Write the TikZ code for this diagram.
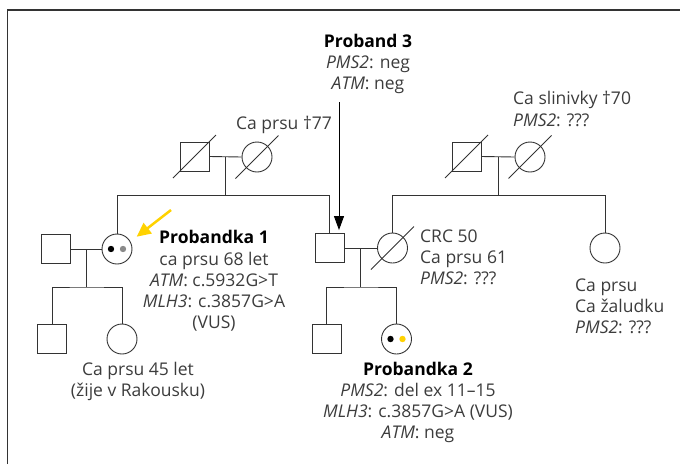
\documentclass[tikz,border=0pt]{standalone}
\usepackage{fontspec}
\setmainfont{Open Sans}
\usetikzlibrary{calc,arrows.meta}
\definecolor{txtgray}{HTML}{3C3C3C}
\definecolor{lngray}{HTML}{333333}
\definecolor{pyellow}{HTML}{FFD200}
\definecolor{dotgray}{HTML}{8A8A8A}
\tikzset{
  male/.style={rectangle, draw=lngray, line width=0.9pt, minimum size=29pt, inner sep=0pt},
  female/.style={circle, draw=lngray, line width=0.9pt, minimum size=30pt, inner sep=0pt},
  rel/.style={draw=lngray, line width=0.9pt},
  txt/.style={text=txtgray, inner sep=0pt, font=\fontsize{17.5}{21.2}\selectfont}
}
\newcommand{\slashit}[1]{\draw[rel] ($(#1)+(-21.5,21.5)$) -- ($(#1)+(21.5,-21.5)$);}
\begin{document}
\begin{tikzpicture}[x=1pt,y=-1pt]
\useasboundingbox (0,0) rectangle (680,464);
% frame
\draw[lngray, line width=1.1pt] (7.5,464) -- (7.5,10) -- (680,10);

% generation I
\node[male] (gf1) at (194.5,156.5) {};
\node[female] (gm1) at (257,157) {};
\node[male] (gf2) at (466.5,156.5) {};
\node[female] (gm2) at (530,157) {};
\slashit{gf1}\slashit{gm1}\slashit{gf2}\slashit{gm2}

% generation II
\node[male] (p1h) at (56,249) {};
\node[female] (p1) at (117,249) {};
\node[male] (p3) at (329.5,248) {};
\node[female] (p3w) at (392.5,248) {};
\node[female] (aunt) at (605,248) {};
\slashit{p3w}

% generation III
\node[male] (s1) at (52,339) {};
\node[female] (d1) at (122,339) {};
\node[male] (s2) at (326.5,339) {};
\node[female] (p2) at (396.5,339) {};

% dots
\fill[black] ($(p1)+(-6,0)$) circle (3.2);
\fill[dotgray] ($(p1)+(6,0)$) circle (3.2);
\fill[black] ($(p2)+(-6,0)$) circle (3.2);
\fill[pyellow] ($(p2)+(6,0)$) circle (3.2);

% marriages and sibships
\draw[rel] (gf1.east) -- (gm1.west);
\coordinate (mid1) at ($(gf1.east)!0.5!(gm1.west)$);
\coordinate (sib1) at ($(mid1)+(0,39)$);
\draw[rel] (mid1) -- (sib1);
\draw[rel] (p1.north) |- (sib1) -| (p3.north);

\draw[rel] (gf2.east) -- (gm2.west);
\coordinate (mid2) at ($(gf2.east)!0.5!(gm2.west)$);
\coordinate (sib2) at ($(mid2)+(0,39)$);
\draw[rel] (mid2) -- (sib2);
\draw[rel] (p3w.north) |- (sib2) -| (aunt.north);

\draw[rel] (p1h.east) -- (p1.west);
\coordinate (mid3) at ($(p1h.east)!0.5!(p1.west)$);
\coordinate (sib3) at ($(mid3)+(0,38)$);
\draw[rel] (mid3) -- (sib3);
\draw[rel] (s1.north) |- (sib3) -| (d1.north);

\draw[rel] (p3.east) -- (p3w.west);
\coordinate (mid4) at ($(p3.east)!0.5!(p3w.west)$);
\coordinate (sib4) at ($(mid4)+(0,39)$);
\draw[rel] (mid4) -- (sib4);
\draw[rel] (s2.north) |- (sib4) -| (p2.north);

% texts
\node[txt, align=center] (t3) at (368,64) {{\bfseries\color{black}Proband 3}\\\textit{PMS2}: neg\\\textit{ATM}: neg};
\node[txt] (t77) at (284,125) {Ca prsu †77};
\node[txt, align=left, anchor=west] (t70) at (513,109) {Ca slinivky †70\\\textit{PMS2}: ???};
\node[txt, align=center] (tp1) at (214,281) {{\bfseries\color{black}Probandka 1}\\ca prsu 68 let\\\textit{ATM}: c.5932G>T\\\textit{MLH3}: c.3857G>A\\(VUS)};
\node[txt, align=center] (td1) at (138,381.5) {Ca prsu 45 let\\(žije v Rakousku)};
\node[txt, align=left, anchor=west] (tcrc) at (420,257.5) {CRC 50\\Ca prsu 61\\\textit{PMS2}: ???};
\node[txt, align=left, anchor=west] (taunt) at (575,306) {Ca prsu\\Ca žaludku\\\textit{PMS2}: ???};
\node[txt, align=center] (tp2) at (418,402.5) {{\bfseries\color{black}Probandka 2}\\\textit{PMS2}: del ex 11–15\\\textit{MLH3}: c.3857G>A (VUS)\\\textit{ATM}: neg};

% arrows
\coordinate (a3) at (339,102);
\draw[black, line width=0.9pt, -{Triangle[length=14pt,width=10pt]}] (a3) -- ($(p3.north -| a3)+(0,-3)$);
\coordinate (ay) at ($(p1)+(54,-39)$);
\coordinate (ayt) at ($(p1)+(19.7,-12.3)$);
\draw[pyellow, line width=2.5pt, -{Triangle[length=14pt,width=13pt]}] (ay) -- (ayt);
\end{tikzpicture}
\end{document}
